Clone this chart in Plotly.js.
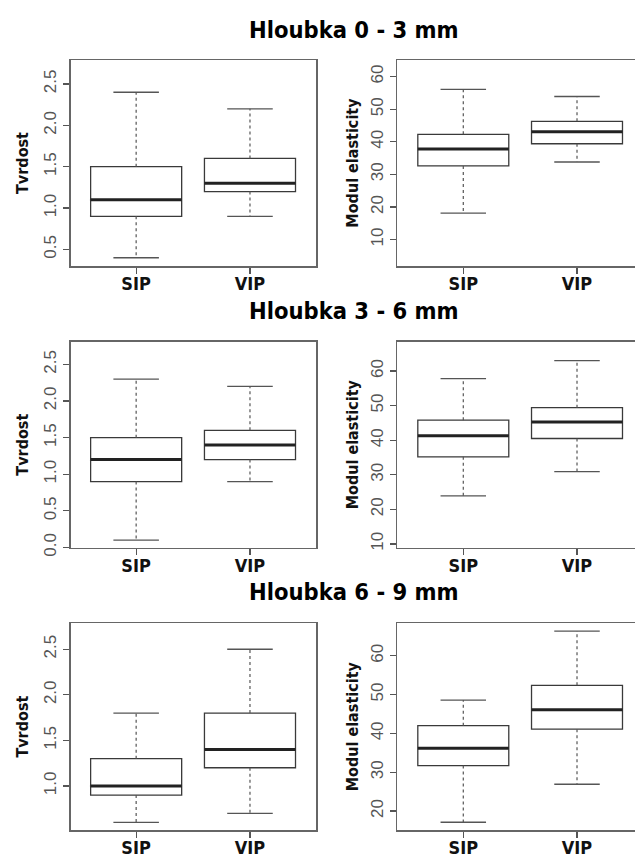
<!DOCTYPE html>
<html>
<head>
<meta charset="utf-8">
<script src="https://cdn.plot.ly/plotly-3.0.1.min.js"></script>
<style>
html,body{margin:0;padding:0;background:#fff;}
#chart{width:635px;height:857px;}
svg text[style*="DejaVu Sans"]{font-stretch:condensed !important;}
</style>
</head>
<body>
<div id="chart"></div>
<script>
// ---- data ----
var groups = ["SIP", "VIP"];
var depthTitles = ["Hloubka 0 - 3 mm", "Hloubka 3 - 6 mm", "Hloubka 6 - 9 mm"];
var leftTitle = "Tvrdost";
var rightTitle = "Modul elasticity";

// Tvrdost (hardness) per depth: [SIP, VIP]
var tvrLow0 = [0.4, 0.9], tvrQ1_0 = [0.9, 1.2], tvrMed0 = [1.1, 1.3], tvrQ3_0 = [1.5, 1.6], tvrHigh0 = [2.4, 2.2];
var tvrLow1 = [0.1, 0.9], tvrQ1_1 = [0.9, 1.2], tvrMed1 = [1.2, 1.4], tvrQ3_1 = [1.5, 1.6], tvrHigh1 = [2.3, 2.2];
var tvrLow2 = [0.6, 0.7], tvrQ1_2 = [0.9, 1.2], tvrMed2 = [1.0, 1.4], tvrQ3_2 = [1.3, 1.8], tvrHigh2 = [1.8, 2.5];

// Modul elasticity per depth: [SIP, VIP]
var modLow0 = [18.1, 33.8], modQ1_0 = [32.6, 39.4], modMed0 = [37.8, 43.1], modQ3_0 = [42.3, 46.3], modHigh0 = [56.1, 53.9];
var modLow1 = [23.9, 30.9], modQ1_1 = [35.2, 40.5], modMed1 = [41.3, 45.3], modQ3_1 = [45.8, 49.4], modHigh1 = [57.8, 63.0];
var modLow2 = [17.1, 26.9], modQ1_2 = [31.7, 41.1], modMed2 = [36.2, 46.1], modQ3_2 = [42.0, 52.4], modHigh2 = [48.6, 66.4];

var leftTicks = [[0.5, 1.0, 1.5, 2.0, 2.5], [0.0, 0.5, 1.0, 1.5, 2.0, 2.5], [1.0, 1.5, 2.0, 2.5]];
var rightTicks = [[10, 20, 30, 40, 50, 60], [10, 20, 30, 40, 50, 60], [20, 30, 40, 50, 60]];

var panels = [
  {low: tvrLow0, q1: tvrQ1_0, med: tvrMed0, q3: tvrQ3_0, high: tvrHigh0, ticks: leftTicks[0], title: leftTitle, side: 0, row: 0},
  {low: modLow0, q1: modQ1_0, med: modMed0, q3: modQ3_0, high: modHigh0, ticks: rightTicks[0], title: rightTitle, side: 1, row: 0},
  {low: tvrLow1, q1: tvrQ1_1, med: tvrMed1, q3: tvrQ3_1, high: tvrHigh1, ticks: leftTicks[1], title: leftTitle, side: 0, row: 1},
  {low: modLow1, q1: modQ1_1, med: modMed1, q3: modQ3_1, high: modHigh1, ticks: rightTicks[1], title: rightTitle, side: 1, row: 1},
  {low: tvrLow2, q1: tvrQ1_2, med: tvrMed2, q3: tvrQ3_2, high: tvrHigh2, ticks: leftTicks[2], title: leftTitle, side: 0, row: 2},
  {low: modLow2, q1: modQ1_2, med: modMed2, q3: modQ3_2, high: modHigh2, ticks: rightTicks[2], title: rightTitle, side: 1, row: 2}
];

// ---- layout geometry (pixels) ----
var W = 635, H = 857;
var colX = [[70.7, 316], [397, 635]];
var colRange = [[-0.575, 1.58], [-0.583, 1.51]];
var rowY = [[60, 266], [341.7, 547.7], [623.3, 830]];
var yRanges = [[0.30, 2.79], [1.9, 65.1], [-0.003, 2.81], [8.9, 68.5], [0.517, 2.785], [15.1, 68.4]];
var titleY = [29.5, 311, 592];
var titleStandoff = [9, 5];

var boldFont = "DejaVu Sans";
var tickFont = "Liberation Sans, Arial, Helvetica, sans-serif";
var boxHalf = 0.4, capHalf = 0.2;

var traces = [];
var layout = {
  width: W, height: H,
  margin: {l: 0, r: 0, t: 0, b: 0},
  paper_bgcolor: "#fff", plot_bgcolor: "#fff",
  showlegend: false,
  annotations: []
};

panels.forEach(function (p, i) {
  var n = i + 1;
  var xa = "x" + (n === 1 ? "" : n), ya = "y" + (n === 1 ? "" : n);
  var xs = [0, 1];
  // box body (whiskers drawn separately with dotted lines)
  traces.push({
    type: "box", xaxis: xa, yaxis: ya,
    x: xs, q1: p.q1, median: p.med, q3: p.q3,
    lowerfence: p.q1, upperfence: p.q3,
    width: 2 * boxHalf, whiskerwidth: 0,
    fillcolor: "#fff", line: {color: "#3a3a3a", width: 1.3},
    hoverinfo: "skip", boxpoints: false
  });
  var wx = [], wy = [], cx = [], cy = [], mx = [], my = [];
  xs.forEach(function (x, k) {
    wx.push(x, x, null, x, x, null);
    wy.push(p.q3[k], p.high[k], null, p.q1[k], p.low[k], null);
    cx.push(x - capHalf, x + capHalf, null, x - capHalf, x + capHalf, null);
    cy.push(p.high[k], p.high[k], null, p.low[k], p.low[k], null);
    mx.push(x - boxHalf, x + boxHalf, null);
    my.push(p.med[k], p.med[k], null);
  });
  traces.push({type: "scatter", mode: "lines", xaxis: xa, yaxis: ya, x: wx, y: wy,
    line: {color: "#555", width: 1.2, dash: "dot"}, hoverinfo: "skip", connectgaps: false});
  traces.push({type: "scatter", mode: "lines", xaxis: xa, yaxis: ya, x: cx, y: cy,
    line: {color: "#555", width: 1.3}, hoverinfo: "skip", connectgaps: false});
  traces.push({type: "scatter", mode: "lines", xaxis: xa, yaxis: ya, x: mx, y: my,
    line: {color: "#222", width: 3}, hoverinfo: "skip", connectgaps: false});

  var cxp = colX[p.side], ry = rowY[p.row];
  layout["xaxis" + (n === 1 ? "" : n)] = {
    domain: [cxp[0] / W, cxp[1] / W], anchor: ya,
    range: colRange[p.side],
    tickvals: xs, ticktext: groups,
    ticks: "outside", ticklen: 6, tickwidth: 1.2, tickcolor: "#555",
    ticklabelstandoff: -5,
    showline: true, mirror: true, linecolor: "#666", linewidth: 1.5,
    showgrid: false, zeroline: false,
    tickfont: {family: boldFont, size: 18, color: "#111", weight: 700},
    fixedrange: true
  };
  layout["yaxis" + (n === 1 ? "" : n)] = {
    domain: [1 - ry[1] / H, 1 - ry[0] / H], anchor: xa,
    range: yRanges[i],
    tickvals: p.ticks,
    tickformat: p.side === 0 ? ".1f" : "d",
    tickangle: -90,
    ticks: "outside", ticklen: 6, tickwidth: 1.2, tickcolor: "#555",
    showline: true, mirror: p.side === 0, linecolor: "#666", linewidth: 1.5,
    showgrid: false, zeroline: false,
    tickfont: {family: tickFont, size: 17, color: "#555"},
    title: {text: p.title, standoff: titleStandoff[p.side], font: {family: boldFont, size: 16, color: "#111", weight: 700}},
    fixedrange: true
  };
});

depthTitles.forEach(function (t, r) {
  layout.annotations.push({
    text: t, xref: "paper", yref: "paper",
    x: 353.7 / W, y: 1 - titleY[r] / H,
    xanchor: "center", yanchor: "middle", showarrow: false,
    font: {family: boldFont, size: 23.5, color: "#000", weight: 700}
  });
});

Plotly.newPlot("chart", traces, layout, {staticPlot: true, displayModeBar: false});
</script>
</body>
</html>
